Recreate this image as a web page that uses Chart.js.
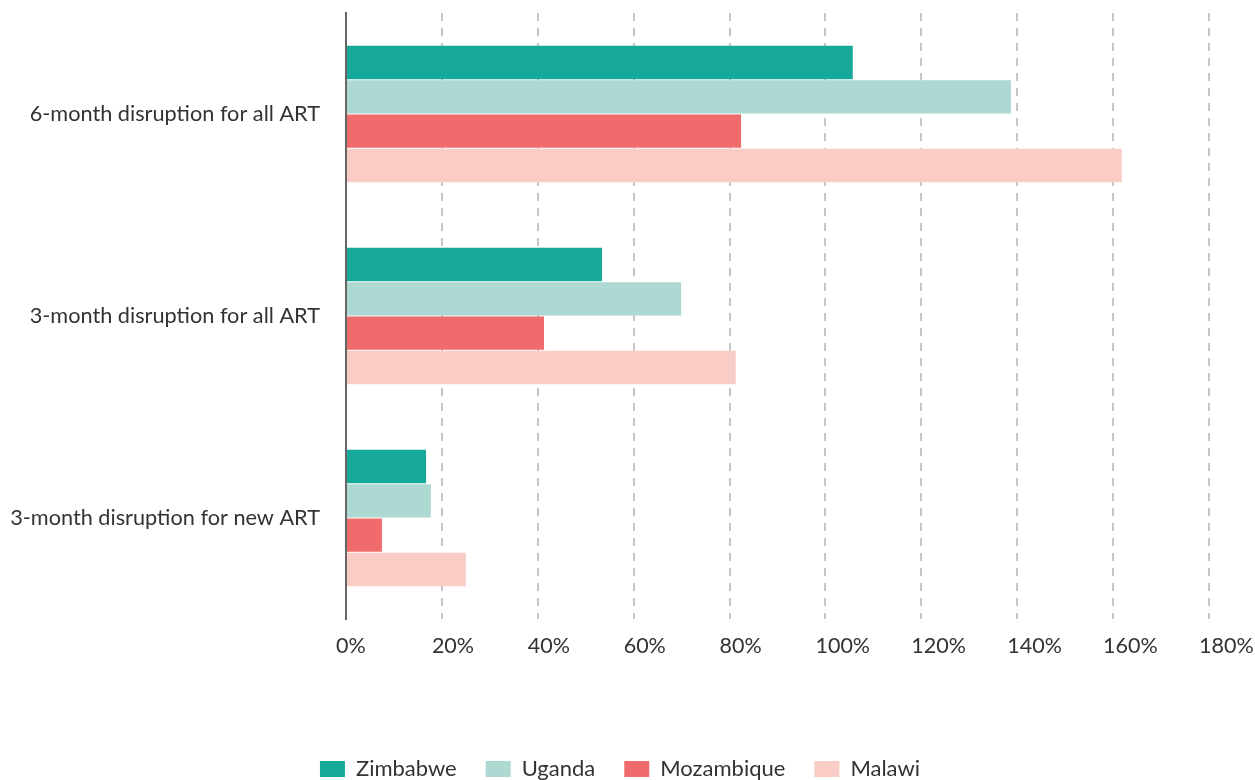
<!DOCTYPE html>
<html>
<head>
<meta charset="utf-8">
<script src="https://cdn.jsdelivr.net/npm/chart.js@4/dist/chart.umd.min.js"></script>
<style>
  html, body { margin: 0; padding: 0; background: #fff; overflow: hidden; }
  #wrap { width: 1255px; height: 790px; position: relative; }
</style>
</head>
<body>
<div id="wrap"><canvas id="chart"></canvas></div>
<script>
const categories = [
  '6-month disruption for all ART',
  '3-month disruption for all ART',
  '3-month disruption for new ART'
];
const countries = ['Zimbabwe', 'Uganda', 'Mozambique', 'Malawi'];
const colors = ['#16a99a', '#aed8d2', '#f06b6b', '#f9cdc6'];

// percent values per country, same order as categories
const zimbabwe = [105.7, 53.4, 16.7];
const uganda = [138.7, 69.9, 17.7];
const mozambique = [82.4, 41.3, 7.5];
const malawi = [161.8, 81.3, 25.0];

const xTicks = [0, 20, 40, 60, 80, 100, 120, 140, 160, 180];

const series = [zimbabwe, uganda, mozambique, malawi];
const textColor = '#333333';
const fontFamily = 'Lato, "Open Sans", sans-serif';

// legend sits a bit right of the canvas centre in the original
const legendShift = {
  id: 'legendShift',
  afterLayout(chart) {
    chart.legend.left += 31;
  }
};

const ctx = document.getElementById('chart').getContext('2d');
new Chart(ctx, {
  type: 'bar',
  data: {
    labels: categories,
    datasets: series.map((values, i) => ({
      label: countries[i],
      data: values,
      backgroundColor: colors[i],
      borderWidth: 0,
      barPercentage: 0.97,
      categoryPercentage: 0.68
    }))
  },
  plugins: [legendShift],
  options: {
    indexAxis: 'y',
    responsive: true,
    maintainAspectRatio: false,
    animation: false,
    layout: { autoPadding: false, padding: { top: 13, right: 46, left: 0, bottom: 0 } },
    plugins: {
      tooltip: { enabled: false },
      legend: {
        position: 'bottom',
        labels: {
          font: { family: fontFamily, size: 22 },
          color: textColor,
          boxWidth: 25,
          boxHeight: 16,
          padding: 29
        }
      }
    },
    scales: {
      x: {
        min: 0,
        max: 180,
        afterBuildTicks: (axis) => {
          axis.ticks = xTicks.map(v => ({ value: v }));
        },
        afterFit: (axis) => {
          axis.height = 110;
          axis.paddingLeft = 0;
          axis.paddingRight = 0;
        },
        ticks: {
          callback: (v) => v + '%',
          color: textColor,
          font: { family: fontFamily, size: 21.5 },
          padding: 14,
          align: 'start',
          labelOffset: -10,
          maxRotation: 0
        },
        grid: {
          color: '#c6c6c6',
          lineWidth: 2,
          drawTicks: false
        },
        border: { display: false, dash: [8, 7] }
      },
      y: {
        afterFit: (axis) => {
          axis.width = 346;
          axis.paddingTop = 0;
          axis.paddingBottom = 0;
        },
        ticks: {
          color: textColor,
          font: { family: fontFamily, size: 21.7 },
          padding: 26
        },
        grid: { display: false, drawTicks: false },
        border: { display: true, color: '#666666', width: 2 }
      }
    }
  }
});
</script>
</body>
</html>
